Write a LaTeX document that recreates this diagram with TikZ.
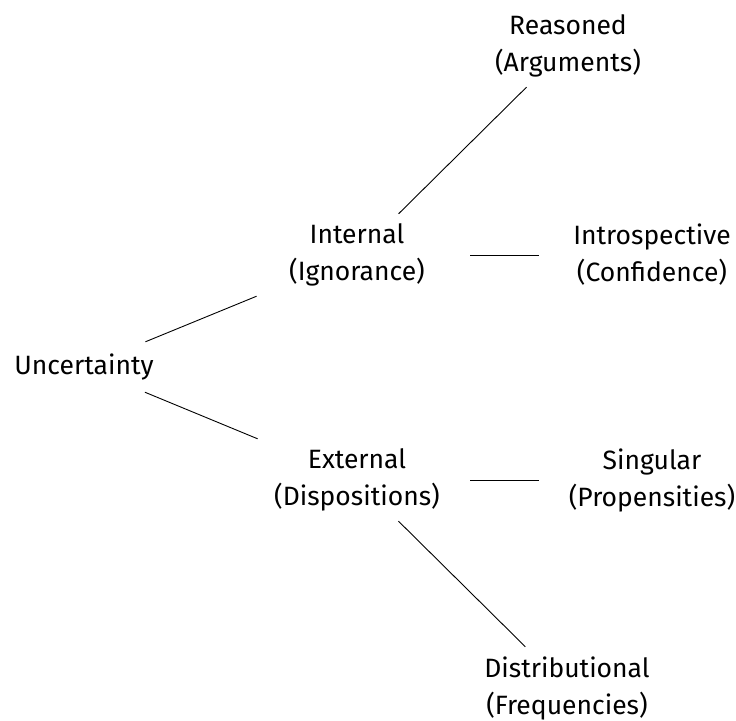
\documentclass[tikz,border=0pt]{standalone}
\usepackage{fontspec}
\setmainfont{Fira Sans}
\begin{document}
\begin{tikzpicture}[x=1pt,y=-1pt,
  lbl/.style={rectangle,inner sep=0pt,align=center,font=\fontsize{26.5}{37}\selectfont},
  two/.style={lbl,minimum width=226pt,minimum height=82pt},
  one/.style={lbl,minimum width=118pt,minimum height=50pt},
  edge/.style={draw=black,line width=0.9pt}]
\useasboundingbox (0,0) rectangle (736,720);
\node[one] (u) at (84,367) {Uncertainty};
\node[two] (int) at (357,255) {Internal\\(Ignorance)};
\node[two] (ext) at (357,480) {External\\(Dispositions)};
\node[two] (rea) at (568,46) {Reasoned\\(Arguments)};
\node[two] (intro) at (652,255) {Introspective\\(Confidence)};
\node[two] (sing) at (652,480) {Singular\\(Propensities)};
\node[two] (dist) at (567,688) {Distributional\\(Frequencies)};
\draw[edge] (u) -- (int);
\draw[edge] (u) -- (ext);
\draw[edge] (int) -- (rea);
\draw[edge] (int) -- (intro);
\draw[edge] (ext) -- (sing);
\draw[edge] (ext) -- (dist);
\end{tikzpicture}
\end{document}
